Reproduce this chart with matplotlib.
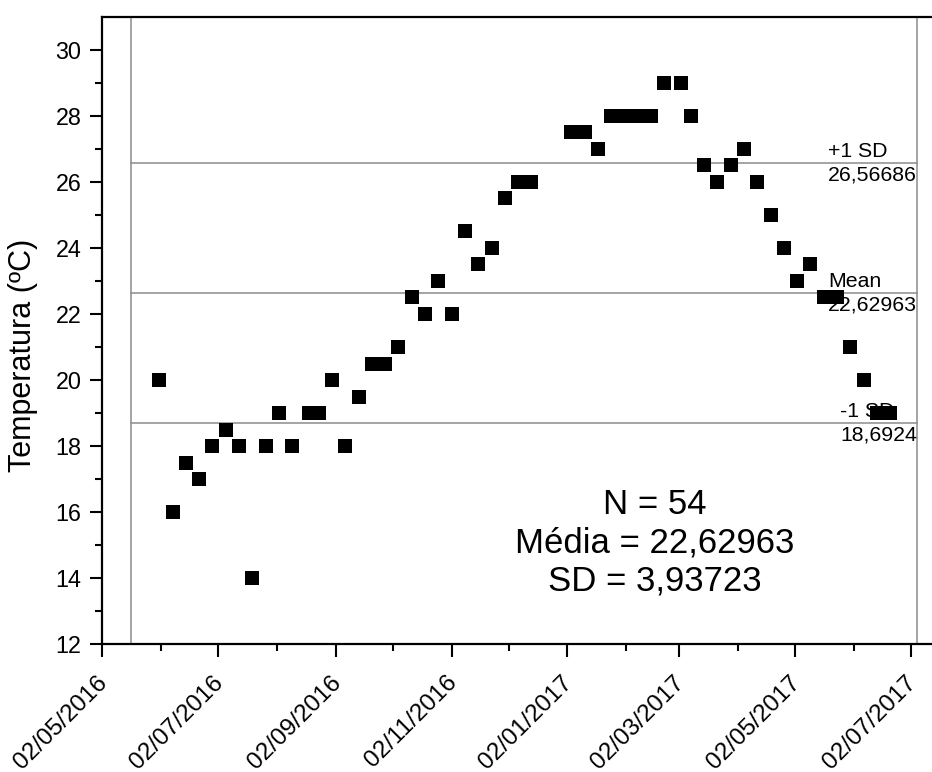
import datetime as dt

import matplotlib
matplotlib.use("Agg")
import matplotlib.pyplot as plt
import matplotlib.dates as mdates

plt.rcParams['font.family'] = ['Liberation Sans', 'DejaVu Sans']

# sampling dates and temperatures (ºC)
dates = [
    "2016-06-01", "2016-06-08", "2016-06-15", "2016-06-22", "2016-06-29",
    "2016-07-06", "2016-07-13", "2016-07-20", "2016-07-27", "2016-08-03",
    "2016-08-10", "2016-08-19", "2016-08-24", "2016-08-31", "2016-09-07",
    "2016-09-14", "2016-09-21", "2016-09-28", "2016-10-05", "2016-10-12",
    "2016-10-19", "2016-10-26", "2016-11-02", "2016-11-09", "2016-11-16",
    "2016-11-23", "2016-11-30", "2016-12-07", "2016-12-14", "2017-01-04",
    "2017-01-11", "2017-01-18", "2017-01-25", "2017-02-01", "2017-02-08",
    "2017-02-15", "2017-02-22", "2017-03-03", "2017-03-08", "2017-03-15",
    "2017-03-22", "2017-03-29", "2017-04-05", "2017-04-12", "2017-04-19",
    "2017-04-26", "2017-05-03", "2017-05-10", "2017-05-17", "2017-05-24",
    "2017-05-31", "2017-06-07", "2017-06-14", "2017-06-21",
]
temps = [
    20, 16, 17.5, 17, 18, 18.5, 18, 14, 18, 19,
    18, 19, 19, 20, 18, 19.5, 20.5, 20.5, 21, 22.5,
    22, 23, 22, 24.5, 23.5, 24, 25.5, 26, 26, 27.5,
    27.5, 27, 28, 28, 28, 28, 29, 29, 28, 26.5,
    26, 26.5, 27, 26, 25, 24, 23, 23.5, 22.5, 22.5,
    21, 20, 19, 19,
]

# summary statistics shown on the chart
n_obs = 54
mean_val = 22.62963
sd_val = 3.93723
ref_levels = [26.56686, 22.62963, 18.6924]
ref_names = ["+1 SD", "Mean", "-1 SD"]
ref_texts = ["26,56686", "22,62963", "18,6924"]

# extent of the reference lines (Origin draws them between these dates)
ref_start = dt.datetime(2016, 5, 17)
ref_end = dt.datetime(2017, 7, 5)

x_start = dt.datetime(2016, 5, 2)
x_end = dt.datetime(2017, 7, 13)
tick_dates = [dt.datetime(2016, 5, 2), dt.datetime(2016, 7, 2), dt.datetime(2016, 9, 2),
              dt.datetime(2016, 11, 2), dt.datetime(2017, 1, 2), dt.datetime(2017, 3, 2),
              dt.datetime(2017, 5, 2), dt.datetime(2017, 7, 2)]
minor_dates = [dt.datetime(2016, 6, 2), dt.datetime(2016, 8, 2), dt.datetime(2016, 10, 2),
               dt.datetime(2016, 12, 2), dt.datetime(2017, 2, 2), dt.datetime(2017, 4, 2),
               dt.datetime(2017, 6, 2)]

x = [dt.datetime.strptime(d, "%Y-%m-%d") for d in dates]

fig = plt.figure(figsize=(9.32, 7.72), dpi=100)
ax = fig.add_axes([102.3 / 932, 1 - 644.3 / 772, 1 - 102.3 / 932, (644.3 - 16.7) / 772])

grey = '#8c8c8c'
for lvl, name, txt in zip(ref_levels, ref_names, ref_texts):
    ax.plot([ref_start, ref_end], [lvl, lvl], color=grey, lw=1.1, zorder=1)
    ax.text(ref_end, lvl, name + "\n" + txt, ha='right', va='center',
            multialignment='left', fontsize=15.3, linespacing=1.3, zorder=2)
ax.axvline(ref_start, color=grey, lw=1.1, zorder=1)
ax.axvline(ref_end, color=grey, lw=1.1, zorder=1)

ax.plot(x, temps, ls='none', marker='s', ms=10, mew=0, color='black', zorder=3)

ax.set_xlim(x_start, x_end)
ax.set_ylim(12, 31)

ax.set_xticks(tick_dates)
ax.set_xticks(minor_dates, minor=True)
ax.xaxis.set_major_formatter(mdates.DateFormatter('%d/%m/%Y'))
ax.set_yticks(range(12, 31, 2))
ax.set_yticks(range(13, 31, 2), minor=True)

ax.tick_params(which='major', direction='out', length=9, width=1.5, labelsize=16.8, pad=6)
ax.tick_params(which='minor', direction='out', length=5, width=1.5)
ax.tick_params(axis='x', which='major', pad=15)
for lab in ax.get_xticklabels():
    lab.set_rotation(45)
    lab.set_ha('right')
    lab.set_va('center_baseline')
    lab.set_rotation_mode('anchor')
    lab.set_fontsize(17.5)

ax.spines['right'].set_visible(False)
for s in ['left', 'bottom', 'top']:
    ax.spines[s].set_linewidth(1.6)

fig.text(23 / 932, 1 - 355 / 772, "Temperatura (ºC)", rotation=90,
         ha='center', va='center', fontsize=22)

fig.text(655 / 932, 1 - 543 / 772,
         "N = %d\nMédia = %s\nSD = %s" % (n_obs, f"{mean_val:.5f}".replace('.', ','),
                                         f"{sd_val:.5f}".replace('.', ',')),
         ha='center', va='center', multialignment='center', fontsize=25, linespacing=1.2)

fig.savefig('out.png', dpi=100)
